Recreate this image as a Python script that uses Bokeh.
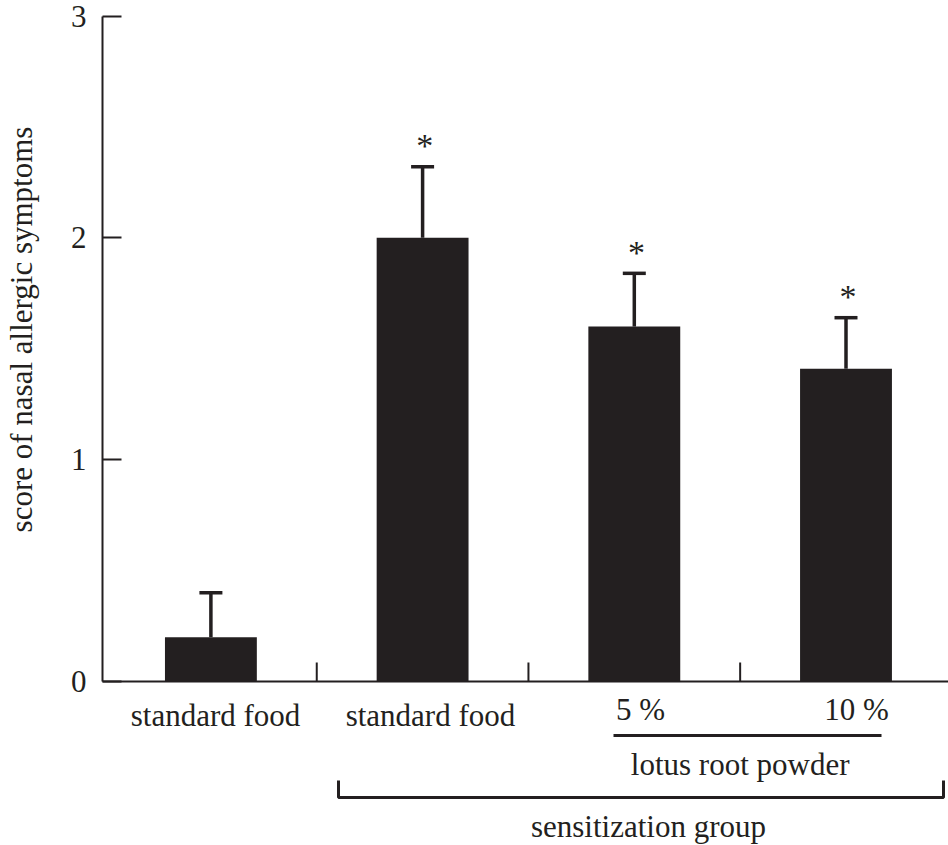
import math
from bokeh.plotting import figure
from bokeh.models import Range1d, LinearAxis, FixedTicker
from bokeh.core.properties import value
from bokeh.embed import file_html
from bokeh.resources import INLINE

# ---------------- data ----------------
groups = ["standard food", "standard food", "5 %", "10 %"]
scores = [0.2, 2.0, 1.6, 1.41]
err_top = [0.4, 2.32, 1.84, 1.64]
signif = ["", "*", "*", "*"]
y_ticks = [0, 1, 2, 3]
y_label = "score of nasal allergic symptoms"
sub_label = "lotus root powder"
group_label = "sensitization group"

# ---------------- layout / style ----------------
W, H = 948, 845
AXIS_PX = 102                 # pixel column of the y axis
X0_PX, XU = 210.4, 211.7      # pixel of category 0, pixels per category
Y0_PX, YU = 681.0, 221.83     # pixel of score 0, pixels per score unit
TEXT_DY = 11                  # text baseline correction (px)
INK = "#231f20"
FONT = "Liberation Serif"


def px2x(px):
    return (px - X0_PX) / XU


def px2y(py):
    return (Y0_PX - py) / YU


def base_y(py):
    return px2y(py - TEXT_DY)


idx = list(range(len(scores)))
axis_x = px2x(AXIS_PX)

p = figure(width=W, height=H,
           x_range=Range1d(px2x(0), px2x(W)),
           y_range=Range1d(px2y(H), px2y(0)),
           x_axis_type=None, y_axis_type=None,
           output_backend="svg", toolbar_location=None, min_border=0)
p.outline_line_color = None
p.background_fill_color = "white"
p.border_fill_color = "white"

# y axis (fixed at the left edge of the plotting area)
yaxis = LinearAxis(fixed_location=axis_x, bounds=(0, 3),
                   ticker=FixedTicker(ticks=y_ticks),
                   major_tick_in=19, major_tick_out=0,
                   minor_tick_in=0, minor_tick_out=0,
                   axis_line_color=INK, axis_line_width=2,
                   major_tick_line_color=INK, major_tick_line_width=2,
                   major_label_text_font=FONT,
                   major_label_text_font_size="31px",
                   major_label_text_color=INK,
                   major_label_standoff=16)
p.add_layout(yaxis, "left")

# x axis line and inner ticks
p.segment(x0=[axis_x], y0=[0], x1=[px2x(W)], y1=[0], line_color=INK, line_width=2)
mids = [i + 0.5 for i in idx[:-1]]
tick_len = 19 / YU
p.segment(x0=mids, y0=[0] * len(mids), x1=mids, y1=[tick_len] * len(mids),
          line_color=INK, line_width=2)

# bars
p.vbar(x=idx, width=0.434, top=scores, bottom=0, fill_color=INK, line_color=None)

# error bars
cap = 11.5 / XU
p.segment(x0=idx, y0=scores, x1=idx, y1=err_top, line_color=INK, line_width=3.5)
p.segment(x0=[i - cap for i in idx], y0=err_top, x1=[i + cap for i in idx], y1=err_top,
          line_color=INK, line_width=3.5)

# significance marks
star_gap = (10 + TEXT_DY) / YU
p.text(x=[i + 0.01 for i in idx], y=[u + star_gap for u in err_top], text=signif,
       text_font=value(FONT), text_font_size="34px", text_color=INK,
       text_align="center", text_baseline="alphabetic")

# category labels
food_dx = [0.022, 0.037]
p.text(x=[idx[i] + food_dx[i] for i in range(2)], y=[base_y(726)] * 2, text=groups[:2],
       text_font=value(FONT), text_font_size="31px", text_color=INK,
       text_align="center", text_baseline="alphabetic")
pct_dx = [0.029, 0.05]
p.text(x=[idx[i + 2] + pct_dx[i] for i in range(2)], y=[base_y(720)] * 2, text=groups[2:],
       text_font=value(FONT), text_font_size="31px", text_color=INK,
       text_align="center", text_baseline="alphabetic")

# lotus root powder underline + label
p.segment(x0=[px2x(613)], y0=[px2y(735)], x1=[px2x(881)], y1=[px2y(735)],
          line_color=INK, line_width=3)
p.text(x=[2.5], y=[base_y(775)], text=[sub_label],
       text_font=value(FONT), text_font_size="31px", text_color=INK,
       text_align="center", text_baseline="alphabetic")

# sensitization bracket + label
bx0, bx1 = px2x(338), px2x(943)
p.line(x=[bx0, bx0, bx1, bx1], y=[px2y(780), px2y(797), px2y(797), px2y(780)],
       line_color=INK, line_width=3)
p.text(x=[px2x(648)], y=[base_y(837)], text=[group_label],
       text_font=value(FONT), text_font_size="31px", text_color=INK,
       text_align="center", text_baseline="alphabetic")

# y axis title
p.text(x=[px2x(21)], y=[px2y(329)], text=[y_label], angle=math.pi / 2,
       text_font=value(FONT), text_font_size="31px", text_color=INK,
       text_align="center", text_baseline="middle")

open("out.html", "w").write(file_html(p, INLINE))
